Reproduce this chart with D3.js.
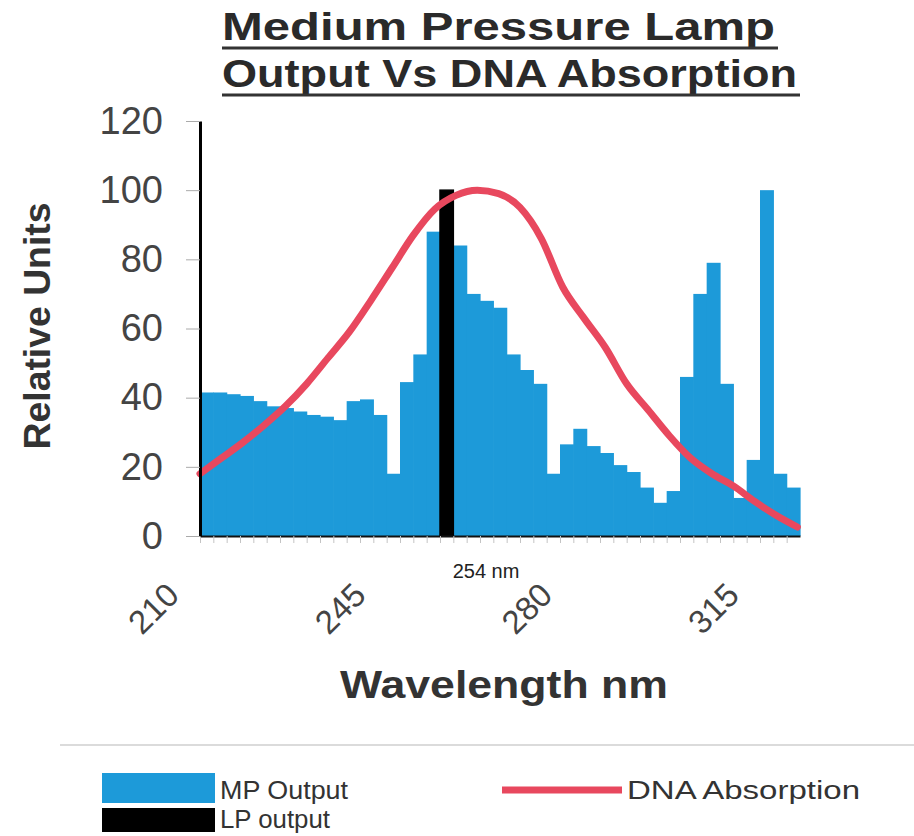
<!DOCTYPE html>
<html>
<head>
<meta charset="utf-8">
<script src="https://cdn.jsdelivr.net/npm/d3@7"></script>
<style>
  html, body { margin: 0; padding: 0; background: #fff; }
  svg { display: block; }
  text { font-family: "Liberation Sans", Arial, sans-serif; }
</style>
</head>
<body>
<svg id="chart" width="914" height="836"></svg>
<script>
// wavelength bins (nm, start of each 2.5 nm bin)
var binStart = [210, 212.5, 215, 217.5, 220, 222.5, 225, 227.5, 230, 232.5,
  235, 237.5, 240, 242.5, 245, 247.5, 250, 252.5, 255, 257.5,
  260, 262.5, 265, 267.5, 270, 272.5, 275, 277.5, 280, 282.5,
  285, 287.5, 290, 292.5, 295, 297.5, 300, 302.5, 305, 307.5,
  310, 312.5, 315, 317.5, 320];
var binWidth = 2.5;

// medium pressure lamp output per bin
var mpOutput = [41.5, 41.5, 41, 40.5, 39, 37.5, 37, 36, 35, 34.5,
  33.5, 39, 39.5, 35, 18, 44.5, 52.5, 88, 86, 84,
  70, 68, 66, 52.5, 48, 44, 18, 26.5, 31, 26,
  24, 20.5, 18.5, 14, 9.6, 13, 46, 70, 79, 44,
  11, 22, 100, 18, 14];

// low pressure lamp line (single bin)
var lpBin = [255];
var lpOutput = [100];

// DNA absorption curve
var dnaNm = [210, 214, 218, 222, 226, 230, 234, 238, 242, 246, 250, 254, 258, 262,
  266, 270, 274, 278, 282, 286, 290, 294, 298, 302, 306, 310, 314, 318, 322];
var dnaAbs = [18, 22.5, 27, 32, 37.5, 44, 51.5, 59, 68, 77.5, 87, 94.5, 98.5, 100,
  99, 95, 86, 72, 63, 54.5, 44, 36.5, 29, 22.5, 18, 14.5, 10, 6, 2.6];

var xTickLabels = [210, 245, 280, 315];
var yTicks = [0, 20, 40, 60, 80, 100, 120];

var blue = '#1d9ad9';
var red = '#e8485e';

var svg = d3.select('#chart');

var x = d3.scaleLinear().domain([210, 322.5]).range([200, 800]);
var y = d3.scaleLinear().domain([0, 120]).range([536, 121]);

// title
var titleLines = [
  { text: 'Medium Pressure Lamp', y: 40, len: 553 },
  { text: 'Output Vs DNA Absorption', y: 87, len: 575 }
];
titleLines.forEach(function (t) {
  svg.append('text')
    .attr('x', 222)
    .attr('y', t.y)
    .attr('textLength', t.len)
    .attr('lengthAdjust', 'spacingAndGlyphs')
    .style('font-size', '39px')
    .style('font-weight', 'bold')
    .style('fill', '#2a2a2a')
    .text(t.text);
  svg.append('line')
    .attr('x1', 222).attr('x2', 222 + t.len + 3)
    .attr('y1', t.y + 8).attr('y2', t.y + 8)
    .attr('stroke', '#333')
    .attr('stroke-width', 3);
});

var g = svg.append('g');

// MP output bars
g.selectAll('.mp')
  .data(binStart)
  .enter()
  .append('rect')
  .attr('class', 'mp')
  .attr('x', function (d) { return x(d); })
  .attr('width', function (d) { return x(d + binWidth) - x(d) + 0.6; })
  .attr('y', function (d, i) { return y(mpOutput[i]); })
  .attr('height', function (d, i) { return y(0) - y(mpOutput[i]); })
  .attr('fill', blue);

// LP output bar
g.selectAll('.lp')
  .data(lpBin)
  .enter()
  .append('rect')
  .attr('class', 'lp')
  .attr('x', function (d) { return x(d); })
  .attr('width', function (d) { return x(d + binWidth) - x(d); })
  .attr('y', function (d, i) { return y(lpOutput[i]); })
  .attr('height', function (d, i) { return y(0) - y(lpOutput[i]); })
  .attr('fill', '#000')
  .attr('stroke', '#000')
  .attr('stroke-width', 1.5);

// DNA absorption line
var line = d3.line()
  .x(function (d) { return x(d); })
  .y(function (d, i) { return y(dnaAbs[i]); })
  .curve(d3.curveMonotoneX);

g.append('path')
  .datum(dnaNm)
  .attr('d', line)
  .attr('fill', 'none')
  .attr('stroke', red)
  .attr('stroke-width', 7)
  .attr('stroke-linecap', 'round');

// x axis (minor ticks only)
var xAxis = svg.append('g')
  .attr('transform', 'translate(0,' + y(0) + ')')
  .call(d3.axisBottom(x).tickValues(binStart).tickSize(7).tickSizeOuter(0).tickFormat(''));
xAxis.select('.domain').attr('stroke', '#111').attr('stroke-width', 2);
xAxis.selectAll('.tick line').attr('stroke', '#c4c4c4');

svg.selectAll('.xlab')
  .data(xTickLabels)
  .enter()
  .append('text')
  .attr('class', 'xlab')
  .attr('transform', function (d) { return 'translate(' + (x(d) - 19) + ',597) rotate(-45)'; })
  .attr('text-anchor', 'end')
  .style('font-size', '33px')
  .style('fill', '#444')
  .text(function (d) { return d; });

svg.append('text')
  .attr('x', 486)
  .attr('y', 578)
  .attr('text-anchor', 'middle')
  .style('font-size', '20px')
  .style('fill', '#222')
  .text('254 nm');

// y axis
var yAxis = svg.append('g')
  .attr('transform', 'translate(200,0)')
  .call(d3.axisLeft(y).tickValues(yTicks).tickSize(14).tickSizeOuter(0).tickPadding(23));
yAxis.select('.domain').attr('stroke', '#000').attr('stroke-width', 3);
yAxis.selectAll('.tick line').attr('stroke', '#aaa');
yAxis.selectAll('.tick text')
  .style('font-size', '38px')
  .style('fill', '#444')
  .style('font-family', '"Liberation Sans", Arial, sans-serif');

svg.append('text')
  .attr('transform', 'translate(50,326) rotate(-90)')
  .attr('text-anchor', 'middle')
  .attr('textLength', 247)
  .attr('lengthAdjust', 'spacingAndGlyphs')
  .style('font-size', '36px')
  .style('font-weight', 'bold')
  .style('fill', '#333')
  .text('Relative Units');

svg.append('text')
  .attr('x', 504)
  .attr('y', 698)
  .attr('text-anchor', 'middle')
  .attr('textLength', 328)
  .attr('lengthAdjust', 'spacingAndGlyphs')
  .style('font-size', '39px')
  .style('font-weight', 'bold')
  .style('fill', '#333')
  .text('Wavelength nm');

// legend
svg.append('line')
  .attr('x1', 60).attr('x2', 914)
  .attr('y1', 745).attr('y2', 745)
  .attr('stroke', '#cfcfcf')
  .attr('stroke-width', 1.5);

var legend = svg.append('g');
legend.append('rect')
  .attr('x', 102).attr('y', 773).attr('width', 113).attr('height', 30)
  .attr('fill', blue);
legend.append('text')
  .attr('x', 220).attr('y', 799)
  .attr('textLength', 128).attr('lengthAdjust', 'spacingAndGlyphs')
  .style('font-size', '25px').style('fill', '#333')
  .text('MP Output');
legend.append('rect')
  .attr('x', 102).attr('y', 808).attr('width', 113).attr('height', 24)
  .attr('fill', '#000');
legend.append('text')
  .attr('x', 220).attr('y', 828)
  .attr('textLength', 110).attr('lengthAdjust', 'spacingAndGlyphs')
  .style('font-size', '25px').style('fill', '#333')
  .text('LP output');
legend.append('line')
  .attr('x1', 502).attr('x2', 622)
  .attr('y1', 790).attr('y2', 790)
  .attr('stroke', red)
  .attr('stroke-width', 7);
legend.append('text')
  .attr('x', 627).attr('y', 799)
  .attr('textLength', 233).attr('lengthAdjust', 'spacingAndGlyphs')
  .style('font-size', '25px').style('fill', '#333')
  .text('DNA Absorption');
</script>
</body>
</html>
